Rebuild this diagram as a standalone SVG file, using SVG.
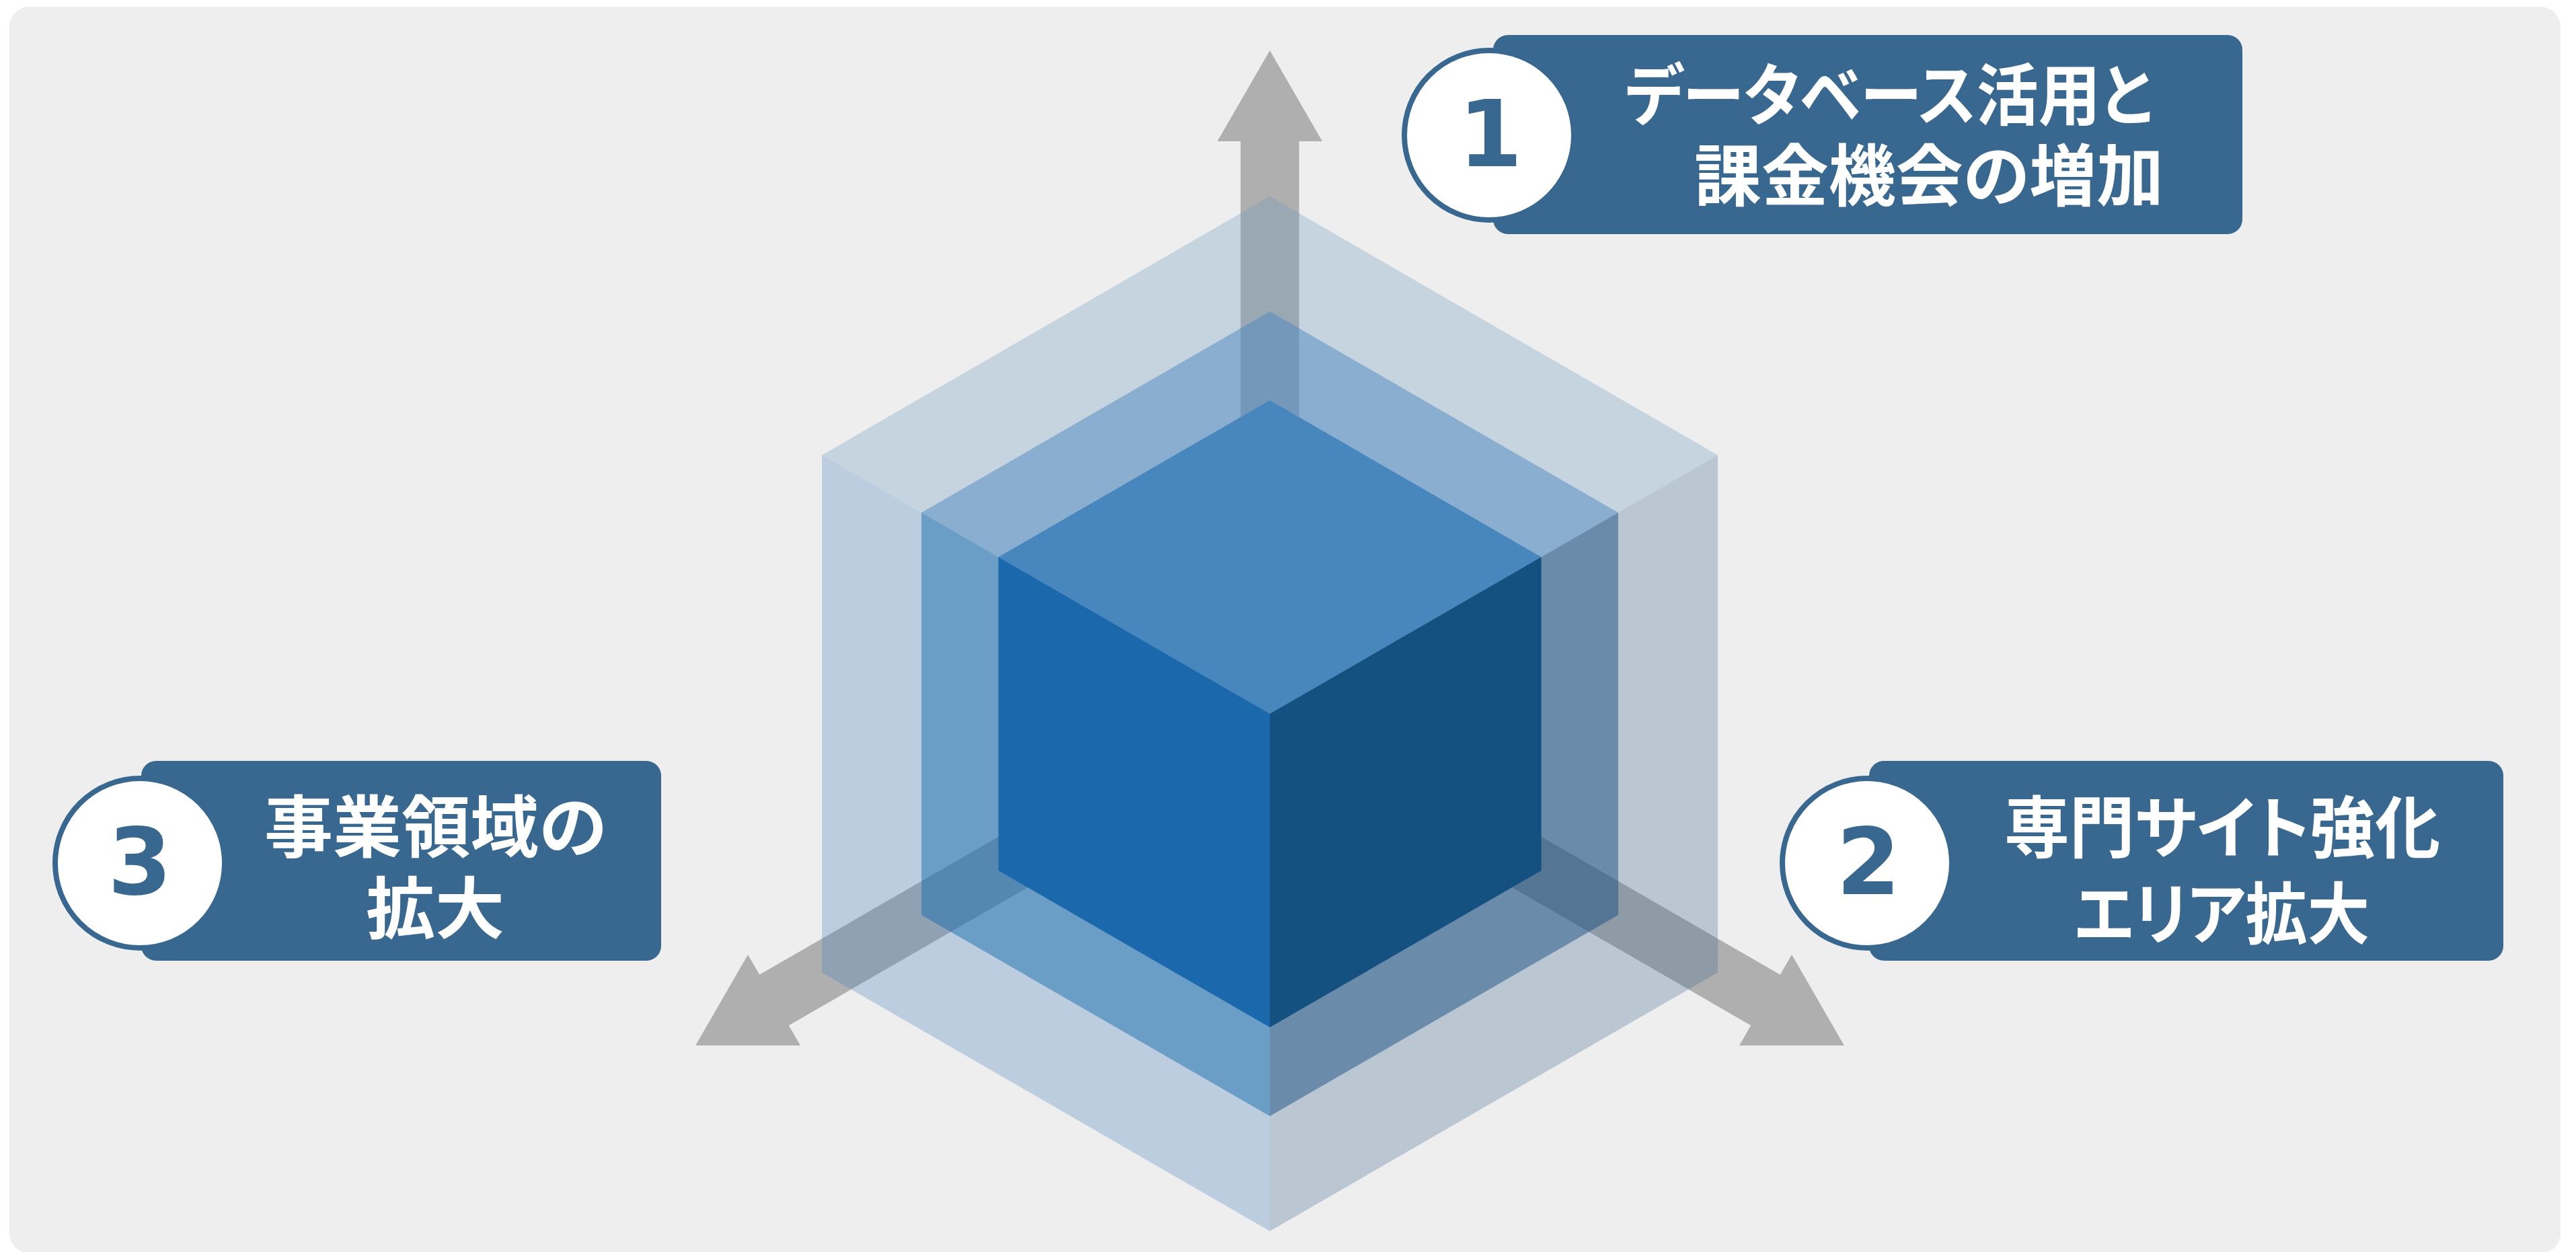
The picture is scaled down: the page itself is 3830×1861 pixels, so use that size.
<svg xmlns="http://www.w3.org/2000/svg" xmlns:xlink="http://www.w3.org/1999/xlink" width="3830" height="1861" viewBox="0 0 3830 1861">
<defs>
<style>
.bg{fill:#EEEEEE;}
.axis{fill:#AFAFAF;}
.box{fill:#386790;}
.ring{fill:#FFFFFF;stroke:#386790;stroke-width:8;}
.num{font-family:"DejaVu Sans",sans-serif;font-weight:bold;font-size:137px;fill:#386790;text-anchor:middle;}
.lbl{font-family:"Noto Sans CJK JP","Noto Sans CJK SC",sans-serif;font-weight:bold;font-size:100px;fill:#FFFFFF;font-feature-settings:"palt";}
.o-top{fill:#6997BF;fill-opacity:0.3;}
.o-left{fill:#4780B9;fill-opacity:0.3;}
.o-right{fill:#416C91;fill-opacity:0.3;}
.m-top{fill:#4E88BE;fill-opacity:0.5;}
.m-left{fill:#1C6FB0;fill-opacity:0.5;}
.m-right{fill:#1A5182;fill-opacity:0.5;}
.i-top{fill:#4887BD;}
.i-left{fill:#1B69AC;}
.i-right{fill:#145181;}
</style>
<polygon id="arrow" points="0,-986 78,-851 43.5,-851 43.5,0 -43.5,0 -43.5,-851 -78,-851"/>
</defs>
<rect class="bg" x="14" y="10" width="3793" height="1853" rx="30"/>
<g id="connectors" class="axis" transform="translate(1888,1061)">
<use xlink:href="#arrow"/>
<use xlink:href="#arrow" transform="rotate(120)"/>
<use xlink:href="#arrow" transform="rotate(-120)"/>
</g>
<g id="cube-outer">
<polygon class="o-top" points="1888,292 2554,676.5 1888,1061 1222,676.5"/>
<polygon class="o-left" points="1222,676.5 1888,1061 1888,1830 1222,1445.5"/>
<polygon class="o-right" points="1888,1061 2554,676.5 2554,1445.5 1888,1830"/>
</g>
<g id="cube-middle">
<polygon class="m-top" points="1888,463 2406,762 1888,1061 1370,762"/>
<polygon class="m-left" points="1370,762 1888,1061 1888,1659 1370,1360"/>
<polygon class="m-right" points="1888,1061 2406,762 2406,1360 1888,1659"/>
</g>
<g id="cube-inner">
<polygon class="i-top" points="1888,595 2291.6,828 1888,1061 1484.4,828"/>
<polygon class="i-left" points="1484.4,828 1888,1061 1888,1527 1484.4,1294"/>
<polygon class="i-right" points="1888,1061 2291.6,828 2291.6,1294 1888,1527"/>
</g>
<g id="node1">
<rect class="box" x="2220" y="52" width="1114" height="296" rx="22"/>
<circle class="ring" cx="2214" cy="201" r="126"/>
<text class="num" x="2216" y="247">1</text>
<text class="lbl" x="2416" y="178" textLength="784" lengthAdjust="spacingAndGlyphs">データベース活用と</text>
<text class="lbl" x="2519" y="298" textLength="698" lengthAdjust="spacingAndGlyphs">課金機会の増加</text>
</g>
<g id="node2">
<rect class="box" x="2779" y="1131" width="943" height="297" rx="22"/>
<circle class="ring" cx="2776" cy="1283" r="126"/>
<text class="num" x="2778" y="1329">2</text>
<text class="lbl" x="2980" y="1267" textLength="648" lengthAdjust="spacingAndGlyphs">専門サイト強化</text>
<text class="lbl" x="3084" y="1395" textLength="439" lengthAdjust="spacingAndGlyphs">エリア拡大</text>
</g>
<g id="node3">
<rect class="box" x="210" y="1131" width="773" height="297" rx="22"/>
<circle class="ring" cx="208" cy="1283" r="126"/>
<text class="num" x="208" y="1329">3</text>
<text class="lbl" x="393" y="1266" textLength="509" lengthAdjust="spacingAndGlyphs">事業領域の</text>
<text class="lbl" x="544" y="1387" textLength="206" lengthAdjust="spacingAndGlyphs">拡大</text>
</g>
</svg>
